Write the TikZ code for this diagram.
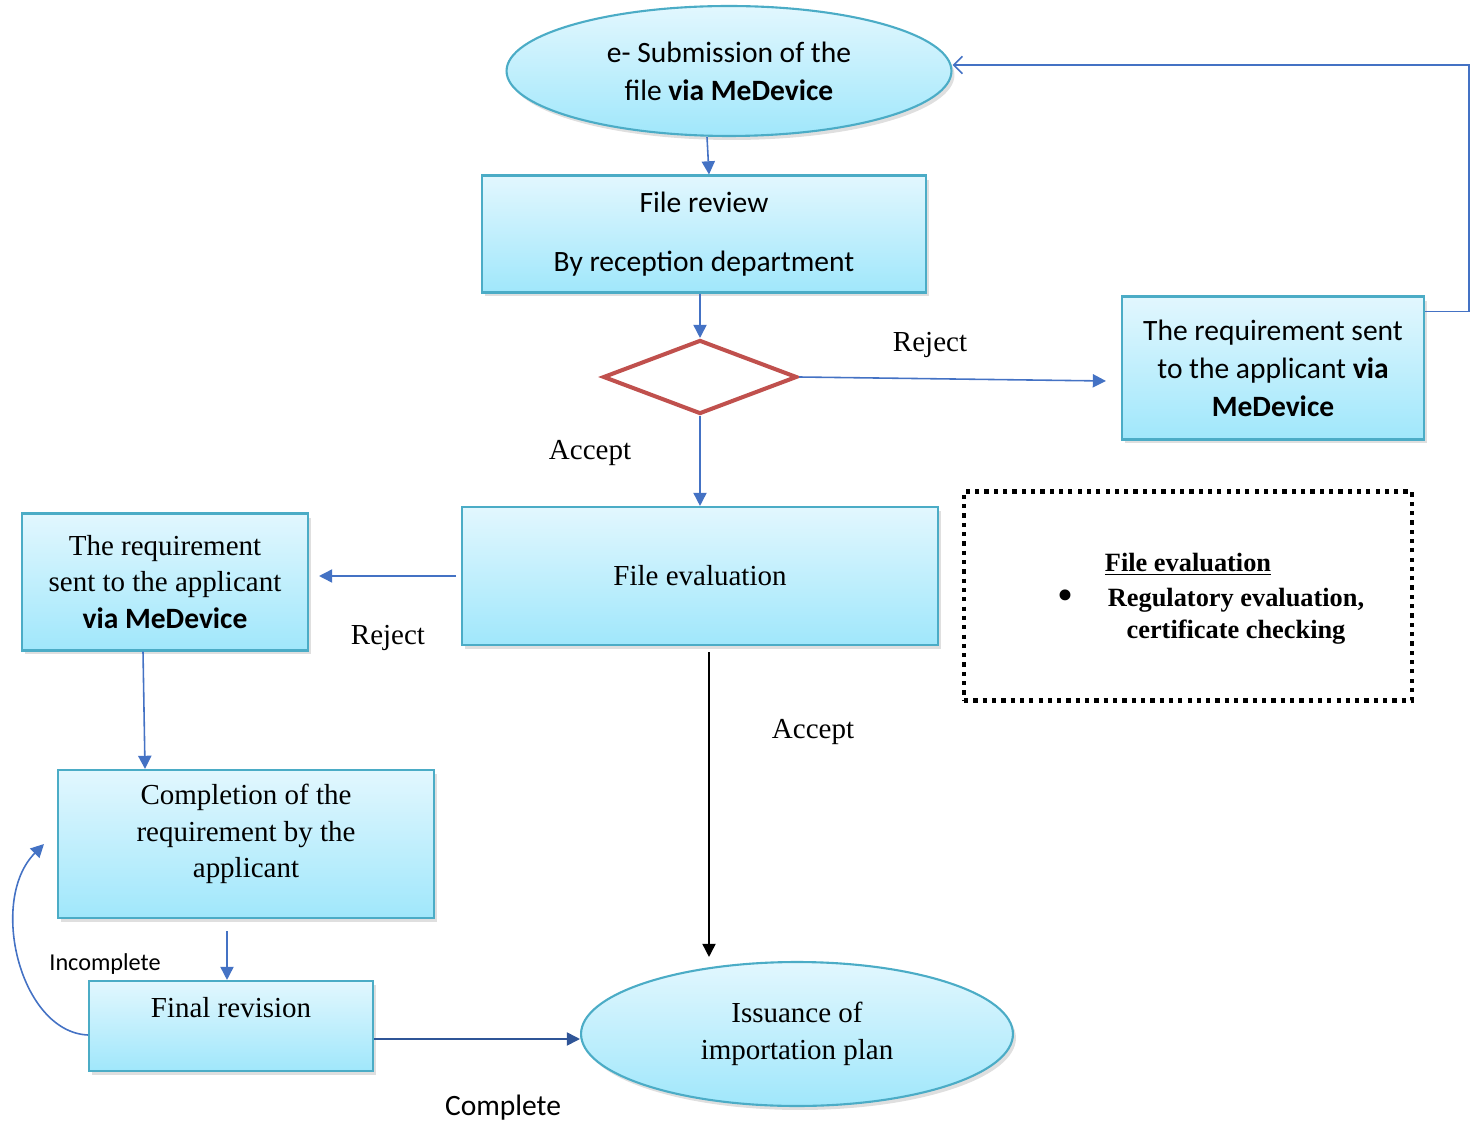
\documentclass[tikz,border=0pt]{standalone}
\usepackage{fontspec}
\setmainfont{Carlito}
\newfontfamily\tnr{Liberation Serif}
\usetikzlibrary{arrows.meta,shapes.geometric,shadows}
\definecolor{boxline}{HTML}{4BACC6}
\definecolor{arrline}{HTML}{4472C4}
\definecolor{diamred}{HTML}{C0504D}
\definecolor{topcyan}{HTML}{E2F7FE}
\definecolor{botcyan}{HTML}{A0E7FB}
\definecolor{darkarr}{HTML}{2F5597}

\begin{document}
\begin{tikzpicture}[x=0.02cm,y=-0.02cm,>={Triangle[length=7.5pt,width=7.5pt]},
  cal/.style={font=\fontsize{16.8}{21.6}\selectfont},
  tms/.style={font=\tnr\fontsize{16.5}{20.7}\selectfont},
  box/.style={rectangle,draw=boxline,line width=1.2pt,top color=topcyan,bottom color=botcyan,
    align=center,inner sep=2pt,drop shadow={opacity=0.25,shadow xshift=0.6mm,shadow yshift=-0.8mm}},
  oval/.style={box,ellipse},
  arr/.style={->,color=arrline,line width=0.9pt},
  lbl/.style={tms,inner sep=0pt}]
\useasboundingbox (0,0) rectangle (1476,1124);

\node[oval,cal,minimum width=8.9cm,minimum height=2.6cm] (sub) at (729,71) {e- Submission of the\\file \textbf{via MeDevice}};
\node[box,cal,minimum width=8.88cm,minimum height=2.34cm] (rev) at (704,234) {File review\\[12pt]By reception department};
\node[diamond,draw=diamred,line width=2.3pt,minimum width=3.88cm,minimum height=1.48cm,inner sep=0pt] (dec) at (700,377) {};
\node[box,cal,minimum width=6.04cm,minimum height=2.86cm] (reqR) at (1273,368) {The requirement sent\\to the applicant \textbf{via}\\\textbf{MeDevice}};
\node[box,tms,minimum width=9.52cm,minimum height=2.76cm] (eval) at (700,576) {File evaluation};
\node[box,tms,minimum width=5.72cm,minimum height=2.74cm] (reqL) at (165,582) {The requirement\\sent to the applicant\\{\normalfont\fontsize{16.8}{20.7}\selectfont\bfseries via MeDevice}};
\node[box,tms,minimum width=7.52cm,minimum height=2.96cm] (comp) at (246,844) {Completion of the\\requirement by the\\applicant\\[-6pt]\mbox{}};
\node[box,tms,minimum width=5.68cm,minimum height=1.8cm] (fin) at (231,1026) {Final revision\\\mbox{}};
\node[oval,tms,minimum width=8.64cm,minimum height=2.88cm] (iss) at (797,1034) {Issuance of\\importation plan};
\node[draw,line width=2.4pt,dash pattern=on 2.4pt off 2.9pt,minimum width=8.96cm,minimum height=4.18cm] (note) at (1188,596) {};
\node[font=\tnr\bfseries\fontsize{15}{18.2}\selectfont] (notet) at (1188,564) {\underline{File evaluation}};
\node[font=\tnr\fontsize{26}{26}\selectfont,inner sep=0pt] (bul) at (1065,600) {\textbullet};
\node[font=\tnr\bfseries\fontsize{15}{18.2}\selectfont,align=center] (notei) at (1236,616) {Regulatory evaluation,\\certificate checking};

\node[lbl] (rj1) at (930,345) {Reject};
\node[lbl] (ac1) at (590,453) {Accept};
\node[lbl] (rj2) at (388,638) {Reject};
\node[lbl] (ac2) at (813,732) {Accept};
\node[font=\fontsize{13.8}{16}\selectfont] (inc) at (105,964) {Incomplete};
\node[font=\fontsize{16.8}{20}\selectfont] (cpl) at (503,1108) {Complete};

\draw[arr] ([xshift=-0.44cm]sub.south) -- ([xshift=0.1cm]rev.north);
\draw[arr] (rev.south -| dec.north) -- (dec.north);
\draw[arr] (dec.east) -- ([xshift=-0.3cm,yshift=-0.26cm]reqR.west);
\draw[arr,-{Straight Barb[length=5pt,width=10pt]}] ([yshift=-0.32cm]reqR.north east) -- ++(44,0) |- ([yshift=0.12cm]sub.east);
\draw[arr] (dec.south) -- (eval.north -| dec.south);
\draw[arr,shorten <=0.1cm,shorten >=0.2cm] (eval.west) -- (eval.west -| reqL.east);
\draw[arr] ([xshift=-0.44cm]reqL.south) -- ([xshift=-2.02cm]comp.north);
\draw[arr,shorten <=0.24cm] ([xshift=-0.08cm]fin.north |- comp.south) -- ([xshift=-0.08cm]fin.north);
\draw[arr] ([yshift=-0.18cm]fin.west) .. controls (20,1032) and (-12,900) .. ([xshift=-0.26cm]comp.west);
\draw[arr,color=darkarr] ([yshift=-0.26cm]fin.east) -- ([yshift=-0.26cm]fin.east -| iss.west);
\draw[arr,color=black,shorten <=0.12cm,shorten >=0.08cm] ([xshift=0.18cm]eval.south) -- ([xshift=0.18cm]eval.south |- iss.north);
    %
\end{tikzpicture}
\end{document}
